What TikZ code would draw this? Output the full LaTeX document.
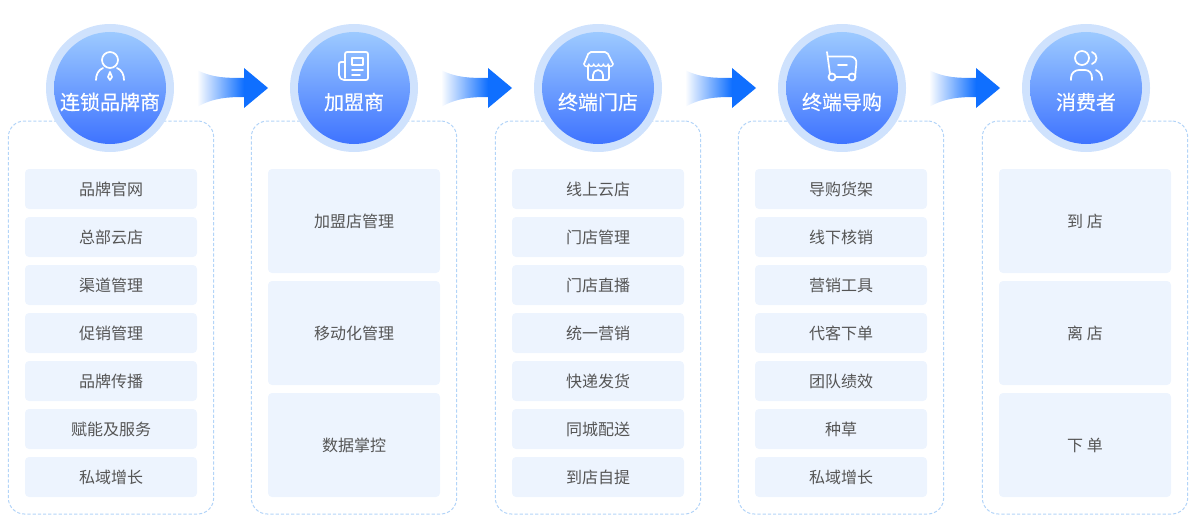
\documentclass[tikz,border=0pt]{standalone}
\usepackage{fontspec}
\setmainfont{Noto Sans CJK SC}
\newfontfamily\titlefont[FakeBold=0.4]{Noto Sans CJK SC}
\definecolor{panelline}{HTML}{B3D4F8}
\definecolor{itemfill}{HTML}{EDF4FE}
\definecolor{itemtext}{HTML}{555555}
\definecolor{ringfill}{HTML}{CFE2FD}
\definecolor{disctop}{HTML}{9DCAFF}
\definecolor{discbottom}{HTML}{3E73FF}
\definecolor{arrowblue}{HTML}{0F6FFF}
\tikzset{
  panel/.style={draw=panelline, line width=.75pt, dash pattern=on 2.4pt off 1.5pt, rounded corners=12pt, minimum width=154pt, minimum height=294.75pt},
  item/.style={fill=itemfill, rounded corners=3pt, text=itemtext, font=\fontsize{12pt}{14pt}\selectfont, minimum width=129pt, minimum height=30pt, inner sep=0pt},
  bigitem/.style={item, minimum height=78pt},
  ring/.style={circle, fill=ringfill, minimum size=96pt, inner sep=0pt},
  disc/.style={circle, top color=disctop, bottom color=discbottom, minimum size=84pt, inner sep=0pt},
  title/.style={text=white, font=\titlefont\fontsize{15pt}{18pt}\selectfont, inner sep=0pt},
  icon/.style={draw=white, line width=1.3pt, line cap=round, line join=round}
}
% arrow between two columns, #1 is the left end of the tail
\newcommand{\flowarrow}[1]{
  \begin{scope}[shift={(#1)}]
    \shade[left color=white, right color=arrowblue] (0,-18) .. controls (16,-10) and (30,-10) .. (47,-10) -- (47,9) .. controls (30,9) and (16,10) .. (0,19) -- cycle;
    \fill[arrowblue] (47,-20) -- (71,0) -- (47,20) -- cycle;
  \end{scope}
}
\begin{document}
\begin{tikzpicture}[x=.75pt,y=-.75pt]
\useasboundingbox (0,0) rectangle (1198,528);
% panels
\node[panel] (panelA) at (111,317.5) {};
\node[panel] (panelB) at (354,317.5) {};
\node[panel] (panelC) at (598,317.5) {};
\node[panel] (panelD) at (841,317.5) {};
\node[panel] (panelE) at (1085,317.5) {};
% heads
\node[ring] (ringA) at (110,88) {};
\node[ring] (ringB) at (354,88) {};
\node[ring] (ringC) at (598,88) {};
\node[ring] (ringD) at (842,88) {};
\node[ring] (ringE) at (1086,88) {};
\node[disc] (discA) at (110,88) {};
\node[disc] (discB) at (354,88) {};
\node[disc] (discC) at (598,88) {};
\node[disc] (discD) at (842,88) {};
\node[disc] (discE) at (1086,88) {};
\node[title] (titleA) at (110,102) {连锁品牌商};
\node[title] (titleB) at (354,102) {加盟商};
\node[title] (titleC) at (598,102) {终端门店};
\node[title] (titleD) at (842,102) {终端导购};
\node[title] (titleE) at (1086,102) {消费者};
% arrows
\flowarrow{197,88}
\flowarrow{441,88}
\flowarrow{685,88}
\flowarrow{929,88}
% person
\draw[icon] (110,60) circle[radius=8];
\draw[icon] (96,80) .. controls (96,75) and (98,70) .. (103,68);
\draw[icon] (124,80) .. controls (124,75) and (122,70) .. (117,68);
\draw[icon] (110,72) -- (112,77) -- (110,80) -- (108,77) -- cycle;
% newspaper
\draw[icon, rounded corners=1.5] (345,78) -- (345,52) -- (368,52) -- (368,80) -- (342,80) -- (339,77) -- (339,62) -- (345,62);
\draw[icon] (352,58) rectangle (363,65);
\draw[icon] (352,70) -- (363,70);
\draw[icon] (352,75) -- (360,75);
% store
\draw[icon, rounded corners=1.5] (588,66) -- (588,80) -- (609,80) -- (609,66);
\draw[icon, rounded corners=1.5] (584,64) -- (589,52) -- (607,52) -- (613,64);
\draw[icon, line width=1pt] (584,64) arc[start angle=180, end angle=0, radius=2.42] arc[start angle=180, end angle=0, radius=2.42] arc[start angle=180, end angle=0, radius=2.42] arc[start angle=180, end angle=0, radius=2.42] arc[start angle=180, end angle=0, radius=2.42] arc[start angle=180, end angle=0, radius=2.42];
\draw[icon] (593,80) -- (593,75) arc[start angle=180, end angle=360, radius=5] -- (603,80);
% cart
\draw[icon] (827,52) -- (830,74);
\draw[icon, rounded corners=5] (828,56.5) -- (857,56.5) -- (855,77);
\draw[icon] (835.5,77) -- (848.5,77);
\draw[icon] (832,77) circle[radius=3.5];
\draw[icon] (852,77) circle[radius=3.5];
\draw[icon] (838,65) -- (847,65);
% users
\draw[icon] (1082,58) circle[radius=7];
\draw[icon] (1071,80) -- (1071,78) .. controls (1071,73) and (1075,70) .. (1079,70) -- (1085,70) .. controls (1089,70) and (1092,73) .. (1092,78) -- (1092,80);
\draw[icon] (1092,52) .. controls (1098,54) and (1098,62) .. (1092,64);
\draw[icon] (1096,70) .. controls (1100,72) and (1102,75) .. (1102,80);
% column 1
\node[item] (itemAa) at (111,189) {品牌官网};
\node[item] (itemAb) at (111,237) {总部云店};
\node[item] (itemAc) at (111,285) {渠道管理};
\node[item] (itemAd) at (111,333) {促销管理};
\node[item] (itemAe) at (111,381) {品牌传播};
\node[item] (itemAf) at (111,429) {赋能及服务};
\node[item] (itemAg) at (111,477) {私域增长};
% column 2
\node[bigitem] (itemBa) at (354,221) {加盟店管理};
\node[bigitem] (itemBb) at (354,333) {移动化管理};
\node[bigitem] (itemBc) at (354,445) {数据掌控};
% column 3
\node[item] (itemCa) at (598,189) {线上云店};
\node[item] (itemCb) at (598,237) {门店管理};
\node[item] (itemCc) at (598,285) {门店直播};
\node[item] (itemCd) at (598,333) {统一营销};
\node[item] (itemCe) at (598,381) {快递发货};
\node[item] (itemCf) at (598,429) {同城配送};
\node[item] (itemCg) at (598,477) {到店自提};
% column 4
\node[item] (itemDa) at (841,189) {导购货架};
\node[item] (itemDb) at (841,237) {线下核销};
\node[item] (itemDc) at (841,285) {营销工具};
\node[item] (itemDd) at (841,333) {代客下单};
\node[item] (itemDe) at (841,381) {团队绩效};
\node[item] (itemDf) at (841,429) {种草};
\node[item] (itemDg) at (841,477) {私域增长};
% column 5
\node[bigitem] (itemEa) at (1085,221) {到 店};
\node[bigitem] (itemEb) at (1085,333) {离 店};
\node[bigitem] (itemEc) at (1085,445) {下 单};
\end{tikzpicture}
\end{document}
